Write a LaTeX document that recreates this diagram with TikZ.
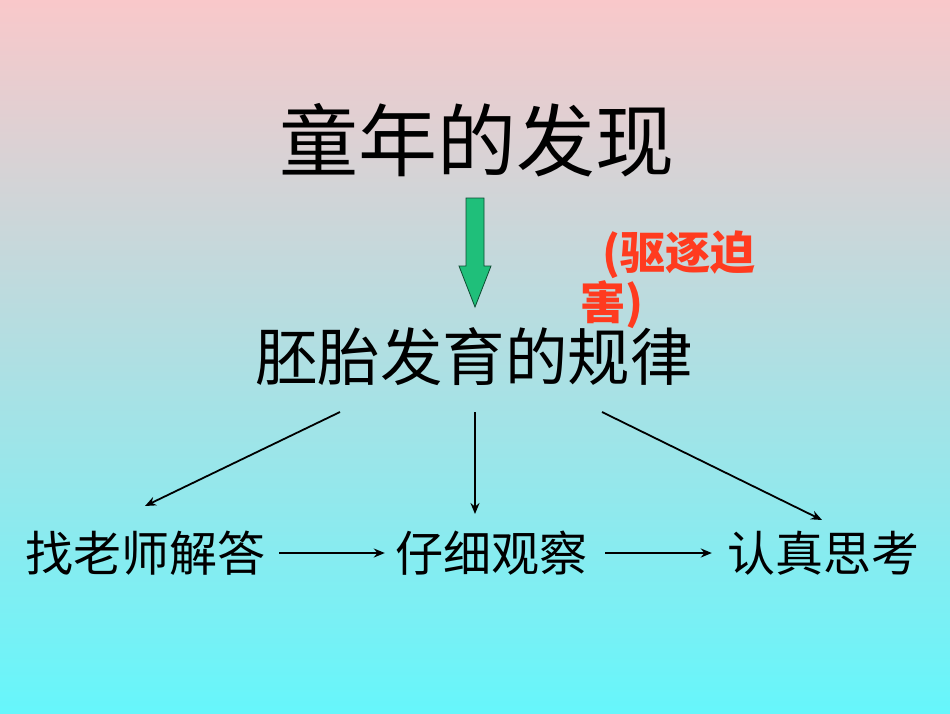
\documentclass[tikz,border=0pt]{standalone}
\usepackage{fontspec}
\setmainfont{Noto Sans CJK SC}
\usetikzlibrary{arrows.meta}
\definecolor{topc}{HTML}{F9C8CA}
\definecolor{botc}{HTML}{66F6FB}
\definecolor{redc}{HTML}{FF3B1F}
\definecolor{grnc}{HTML}{1FBF7A}
\tikzset{
 lbl/.style={inner sep=0pt, anchor=center},
 conn/.style={draw=black, line width=1.8pt, -{Stealth[length=11pt,width=9pt]}}
}
\begin{document}
\begin{tikzpicture}[x=1pt,y=-1pt]
\shade[top color=topc, bottom color=botc] (0,0) rectangle (950,713);
\useasboundingbox (0,0) rectangle (950,713);
\node[lbl, font=\fontsize{79}{82}\selectfont] (t) at (477,140) {童年的发现};
\node[lbl, font=\fontsize{62.5}{66}\selectfont] (m) at (474,357) {胚胎发育的规律};
\node[lbl, font=\bfseries\fontsize{45}{48}\selectfont, text=redc, anchor=west] (r1) at (602,255) {(驱逐迫};
\node[lbl, font=\bfseries\fontsize{45}{48}\selectfont, text=redc, anchor=west] (r2) at (580,305) {害)};
\node[lbl, font=\fontsize{48}{50}\selectfont] (a) at (145,553) {找老师解答};
\node[lbl, font=\fontsize{48}{50}\selectfont] (b) at (491,553) {仔细观察};
\node[lbl, font=\fontsize{48}{50}\selectfont] (c) at (823,553) {认真思考};
\coordinate (g1) at (475,198);
\coordinate (g2) at (475,307);
\draw[draw=black!60!grnc, fill=grnc, line width=0.8pt]
 (466,198) -- (484,198) -- (484,266) -- (491,266) -- (g2) -- (459,266) -- (466,266) -- cycle;
\coordinate (m1) at (340,412);
\coordinate (m2) at (475,412);
\coordinate (m3) at (602,412);
\draw[conn] (m1) -- (145,506);
\draw[conn] (m2) -- (475,514);
\draw[conn] (m3) -- (822,520);
\draw[conn] (a.east) ++(14,0) -- ([xshift=-10pt]b.west);
\draw[conn] (b.east) ++(18,0) -- ([xshift=-15pt]c.west);
\end{tikzpicture}
\end{document}
